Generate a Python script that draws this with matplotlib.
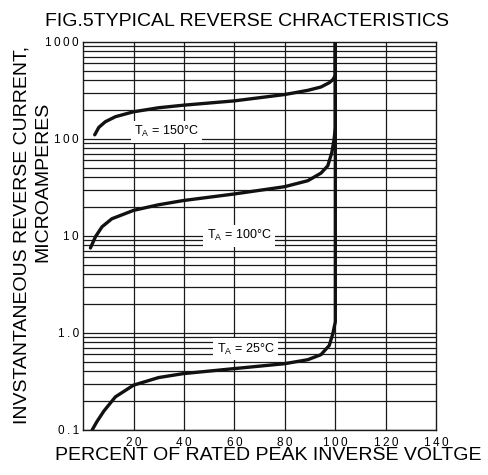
import numpy as np
from matplotlib import pyplot as plt

plt.rcParams["font.family"] = ["Liberation Sans", "DejaVu Sans"]

# percent of rated peak inverse voltage vs reverse current (uA)
pct_150 = [4.6, 6.2, 8.8, 12.8, 20, 29.9, 39.7, 59.9, 79.9, 89.1, 94.3, 97.6, 99, 100, 100]
cur_150 = [110, 131, 150, 169, 190, 209, 222, 246, 286, 316, 342, 379, 406, 450, 1000]

pct_100 = [2.9, 4.9, 7.5, 11.4, 20, 29.9, 39.7, 59.9, 79.9, 89.1, 94.3, 97, 98.6, 99.5, 100, 100]
cur_100 = [7.5, 9.8, 12.4, 15.0, 18.3, 20.9, 23.1, 27.0, 32.1, 37.0, 44.3, 52.6, 72, 98, 130, 1000]

pct_25 = [3.6, 5.5, 8.2, 12.8, 20, 29.9, 39.7, 59.9, 79.9, 89.1, 94.3, 97.6, 99, 100, 100]
cur_25 = [0.1, 0.122, 0.156, 0.219, 0.289, 0.346, 0.380, 0.428, 0.481, 0.529, 0.596, 0.741, 0.977, 1.3, 1000]

x_ticks = [20, 40, 60, 80, 100, 120, 140]
y_ticks = [0.1, 1, 10, 100, 1000]
y_tick_labels = ["0.1", "1.0", "10", "100", "1000"]

labels = [
    ("T$_\\mathregular{A}$ = 150°C", 33.0, 118),
    ("T$_\\mathregular{A}$ = 100°C", 61.8, 10),
    ("T$_\\mathregular{A}$ = 25°C", 64.4, 0.68),
]


def spaced(s):
    # the scanned ticks are letter-spaced
    return "\u2009".join(s)


fig = plt.figure(figsize=(4.89, 4.75), dpi=100)
ax = fig.add_axes([0.170, 0.095, 0.722, 0.817])
ax.set_yscale("log")
ax.set_xlim(0, 140)
ax.set_ylim(0.1, 1000)

gc = "#1a1a1a"
# grid: every 20 % and every minor decade step
for xv in range(20, 140, 20):
    ax.axvline(xv, color=gc, lw=0.9, zorder=1)
for dec in [0.1, 1, 10, 100]:
    for m in range(1, 10):
        ax.axhline(dec * m, color=gc, lw=0.9, zorder=1)

for p, c in [(pct_150, cur_150), (pct_100, cur_100), (pct_25, cur_25)]:
    ax.plot(p, c, color="#111111", lw=2.4, solid_capstyle="round",
            solid_joinstyle="round", zorder=3)

for txt, xv, yv in labels:
    ax.text(xv, yv, txt, ha="center", va="center", fontsize=9, zorder=4,
            bbox=dict(facecolor="white", edgecolor="none", pad=2.5))

ax.set_xticks(x_ticks)
ax.set_xticklabels([spaced(str(v)) for v in x_ticks], fontsize=8.5)
ax.set_yticks(y_ticks)
ax.set_yticklabels([spaced(t) for t in y_tick_labels], fontsize=8.5)
ax.minorticks_off()
ax.tick_params(axis="x", length=0, pad=5)
ax.tick_params(axis="y", length=0, pad=3)
for s in ax.spines.values():
    s.set_linewidth(1.0)
    s.set_color(gc)

fig.text(0.505, 0.954, "FIG.5TYPICAL REVERSE CHRACTERISTICS", ha="center", va="center",
         fontsize=14)
fig.text(0.548, 0.040, "PERCENT OF RATED PEAK INVERSE VOLTGE", ha="center", va="center",
         fontsize=14)
fig.text(0.045, 0.505, "INVSTANTANEOUS REVERSE CURRENT,", rotation=90, ha="center",
         va="center", fontsize=14)
fig.text(0.088, 0.617, "MICROAMPERES", rotation=90, ha="center", va="center", fontsize=14)

fig.savefig("out.png", dpi=100)
